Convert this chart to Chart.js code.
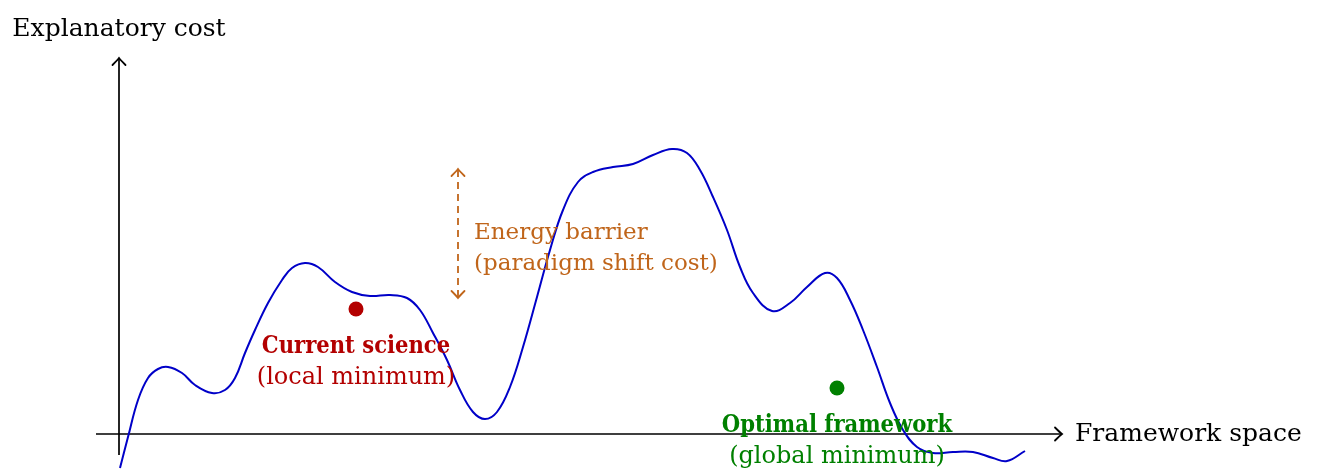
<!DOCTYPE html>
<html>
<head>
<meta charset="utf-8">
<script src="https://cdn.jsdelivr.net/npm/chart.js@4"></script>
<style>
  html, body { margin: 0; padding: 0; background: #fff; }
  #wrap { width: 1320px; height: 470px; }
</style>
</head>
<body>
<div id="wrap"><canvas id="landscape"></canvas></div>
<script>
// cost landscape (framework position, explanatory cost)
const curveX = [0.01, 0.09, 0.19, 0.29, 0.39, 0.49, 0.63, 0.76, 0.93, 1.06, 1.16, 1.26,
  1.36, 1.49, 1.63, 1.73, 1.86, 1.99, 2.16, 2.33, 2.51, 2.71, 2.88, 3.01, 3.14, 3.28,
  3.41, 3.54, 3.66, 3.78, 3.91, 4.04, 4.18, 4.31, 4.44, 4.59, 4.74, 4.94, 5.14, 5.34,
  5.53, 5.68, 5.81, 5.94, 6.08, 6.21, 6.34, 6.53, 6.71, 6.88, 7.06, 7.18, 7.31, 7.44,
  7.58, 7.71, 7.84, 7.98, 8.14, 8.34, 8.54, 8.74, 8.88, 9.06];
const curveY = [-0.34, -0.03, 0.34, 0.56, 0.65, 0.67, 0.61, 0.49, 0.41, 0.44, 0.56, 0.81,
  1.04, 1.31, 1.54, 1.66, 1.71, 1.67, 1.52, 1.42, 1.38, 1.39, 1.36, 1.24, 1.01, 0.74,
  0.44, 0.22, 0.15, 0.22, 0.47, 0.87, 1.37, 1.84, 2.24, 2.52, 2.62, 2.67, 2.70, 2.79,
  2.85, 2.81, 2.64, 2.37, 2.04, 1.67, 1.41, 1.23, 1.31, 1.47, 1.61, 1.56, 1.34, 1.04,
  0.67, 0.31, 0.04, -0.13, -0.19, -0.18, -0.18, -0.24, -0.27, -0.17];

const currentScience = [2.37, 1.25];
const optimalFramework = [7.18, 0.46];
const barrierX = 3.39;
const barrierRange = [1.36, 2.65];

const xAxisRange = [-0.23, 9.43];
const yAxisRange = [-0.21, 3.76];

const xTitle = "Framework space";
const yTitle = "Explanatory cost";
const currentLabel = ["Current science", "(local minimum)"];
const optimalLabel = ["Optimal framework", "(global minimum)"];
const barrierLabel = ["Energy barrier", "(paradigm shift cost)"];

const BLUE = "#0000c8";
const RED = "#b30000";
const GREEN = "#008000";
const ORANGE = "#c0651a";
const FONT = "'DejaVu Serif', serif";
const BOLD_FONT = "'DejaVu Serif Condensed', 'DejaVu Serif', serif";

// tikz style "->" head, pointing along angle
function arrowHead(ctx, x, y, angle, color) {
  ctx.save();
  ctx.translate(x, y);
  ctx.rotate(angle);
  ctx.strokeStyle = color;
  ctx.lineWidth = 1.8;
  ctx.lineCap = "round";
  ctx.beginPath();
  ctx.moveTo(-7, -6.5);
  ctx.quadraticCurveTo(-2, -1.5, 0, 0);
  ctx.quadraticCurveTo(-2, 1.5, -7, 6.5);
  ctx.stroke();
  ctx.restore();
}

const decorations = {
  id: "decorations",
  beforeDatasetsDraw(chart) {
    const { ctx, scales: { x, y } } = chart;
    const x0 = x.getPixelForValue(0), y0 = y.getPixelForValue(0);
    const xl = x.getPixelForValue(xAxisRange[0]), xr = x.getPixelForValue(xAxisRange[1]);
    const yb = y.getPixelForValue(yAxisRange[0]), yt = y.getPixelForValue(yAxisRange[1]);
    ctx.save();
    ctx.strokeStyle = "#000";
    ctx.lineWidth = 1.7;
    ctx.beginPath();
    ctx.moveTo(xl, y0); ctx.lineTo(xr, y0);
    ctx.moveTo(x0, yb); ctx.lineTo(x0, yt);
    ctx.stroke();
    ctx.restore();
    arrowHead(ctx, xr, y0, 0, "#000");
    arrowHead(ctx, x0, yt, -Math.PI / 2, "#000");

    // energy barrier arrow
    const bx = x.getPixelForValue(barrierX);
    const bb = y.getPixelForValue(barrierRange[0]), bt = y.getPixelForValue(barrierRange[1]);
    ctx.save();
    ctx.strokeStyle = ORANGE;
    ctx.lineWidth = 1.8;
    ctx.setLineDash([7, 5]);
    ctx.beginPath();
    ctx.moveTo(bx, bt + 1); ctx.lineTo(bx, bb - 1);
    ctx.stroke();
    ctx.restore();
    arrowHead(ctx, bx, bt, -Math.PI / 2, ORANGE);
    arrowHead(ctx, bx, bb, Math.PI / 2, ORANGE);
  },
  afterDatasetsDraw(chart) {
    const { ctx, scales: { x, y } } = chart;
    const x0 = x.getPixelForValue(0), y0 = y.getPixelForValue(0);
    ctx.save();
    ctx.font = "25px " + FONT;
    ctx.fillStyle = "#000";
    ctx.textAlign = "center";
    ctx.textBaseline = "alphabetic";
    ctx.fillText(yTitle, x0, y.getPixelForValue(yAxisRange[1]) - 22);
    ctx.textAlign = "left";
    ctx.textBaseline = "middle";
    ctx.fillText(xTitle, x.getPixelForValue(xAxisRange[1]) + 13, y0);

    const bx = x.getPixelForValue(barrierX);
    const bm = (y.getPixelForValue(barrierRange[0]) + y.getPixelForValue(barrierRange[1])) / 2;
    ctx.font = "23px " + FONT;
    ctx.fillStyle = ORANGE;
    ctx.fillText(barrierLabel[0], bx + 16, bm);
    ctx.fillText(barrierLabel[1], bx + 16, bm + 31);

    ctx.textAlign = "center";
    [[currentScience, currentLabel, RED], [optimalFramework, optimalLabel, GREEN]].forEach(([pt, lab, col]) => {
      const px = x.getPixelForValue(pt[0]), py = y.getPixelForValue(pt[1]);
      ctx.fillStyle = col;
      ctx.font = "bold 23.5px " + BOLD_FONT;
      ctx.fillText(lab[0], px, py + 38);
      ctx.font = "24px " + FONT;
      ctx.fillText(lab[1], px, py + 69);
    });
    ctx.restore();
  }
};

new Chart(document.getElementById("landscape"), {
  type: "scatter",
  data: {
    datasets: [
      {
        label: "landscape",
        data: curveX.map((v, i) => ({ x: v, y: curveY[i] })),
        showLine: true,
        borderColor: BLUE,
        borderWidth: 2,
        pointRadius: 0,
        tension: 0.4,
        fill: false,
      },
      {
        label: "current",
        data: [{ x: currentScience[0], y: currentScience[1] }],
        backgroundColor: RED,
        borderWidth: 0,
        pointRadius: 7.5,
      },
      {
        label: "optimal",
        data: [{ x: optimalFramework[0], y: optimalFramework[1] }],
        backgroundColor: GREEN,
        borderWidth: 0,
        pointRadius: 7.5,
      },
    ],
  },
  options: {
    responsive: true,
    maintainAspectRatio: false,
    animation: false,
    layout: { padding: 0, autoPadding: false },
    scales: {
      x: { type: "linear", display: false, min: -1.19, max: 12.01 },
      y: { type: "linear", display: false, min: -0.36, max: 4.34 },
    },
    plugins: {
      legend: { display: false },
      tooltip: { enabled: false },
    },
  },
  plugins: [decorations],
});
</script>
</body>
</html>
